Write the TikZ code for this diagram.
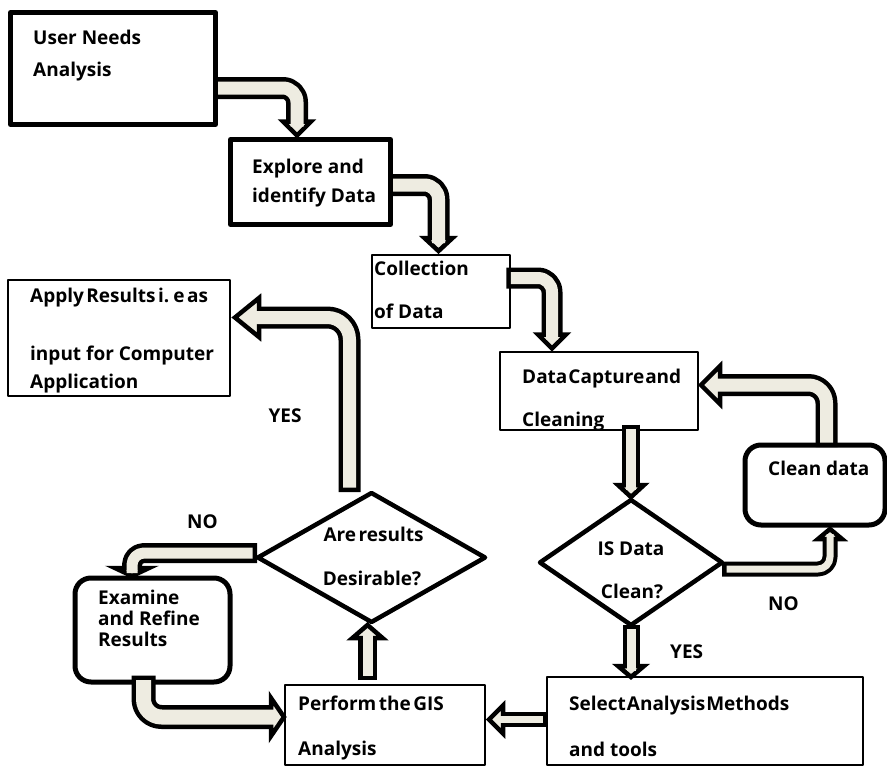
\documentclass[tikz,border=0pt]{standalone}
\usepackage{fontspec}
\setmainfont{Open Sans}
\usetikzlibrary{shapes.geometric,calc}
\definecolor{arrowfill}{HTML}{EEECE1}

% block arrow: #1 inner width, #2 outer width, #3 corner radius, #4 shaft path, #5 head path
\newcommand\blockarrow[5]{%
  \draw[line width=#2, rounded corners=#3, shorten <=-4.5pt] #4;
  \filldraw[headstyle] #5;
  \draw[line width=#1, draw=arrowfill, rounded corners=#3, shorten >=-5pt] #4;
}
% arrow heads from the tip (#1), half width (#2) and length (#3)
\newcommand\headdown[3]{($(#1)+(-#2,-#3)$) -- (#1) -- ($(#1)+(#2,-#3)$) -- cycle}
\newcommand\headup[3]{($(#1)+(-#2,#3)$) -- (#1) -- ($(#1)+(#2,#3)$) -- cycle}
\newcommand\headleft[3]{($(#1)+(#3,-#2)$) -- (#1) -- ($(#1)+(#3,#2)$) -- cycle}
\newcommand\headright[3]{($(#1)+(-#3,-#2)$) -- (#1) -- ($(#1)+(-#3,#2)$) -- cycle}
% narrow word spacing
\newcommand\tightsp{\spaceskip=2.5pt plus 1pt\relax}
\newcommand\tightersp{\spaceskip=1pt plus 0.5pt\relax}

\tikzset{
  thickbox/.style={draw, fill=white, line width=5pt, inner sep=0pt, outer sep=0pt},
  thinbox/.style={draw, fill=white, line width=1.6pt, inner sep=0pt, outer sep=0pt},
  softbox/.style={thickbox, rounded corners=16pt},
  decision/.style={diamond, draw, fill=white, line width=4.5pt, inner sep=0pt, outer sep=0pt},
  lbl/.style={font=\bfseries\fontsize{19}{22}\selectfont, inner sep=0pt, anchor=base west},
  clbl/.style={lbl, anchor=base},
  headstyle/.style={fill=arrowfill, draw=black, line width=4.5pt, line join=miter},
}

\begin{document}
\begin{tikzpicture}[x=1pt, y=-1pt, line join=round]
\useasboundingbox[fill=white] (0,0) rectangle (887,766);

% boxes
\node[thickbox, minimum width=205, minimum height=112] (un) at (113,68.5) {};
\node[thickbox, minimum width=160, minimum height=85] (ex) at (310.5,182) {};
\node[thinbox, minimum width=138, minimum height=73] (co) at (441,291.5) {};
\node[thinbox, minimum width=198, minimum height=78] (dc) at (599,391) {};
\node[softbox, minimum width=140, minimum height=80] (cd) at (815,485) {};
\node[decision, minimum width=182, minimum height=125] (isd) at (631,562.5) {};
\node[thinbox, minimum width=316, minimum height=88] (sel) at (705,721) {};
\node[thinbox, minimum width=200, minimum height=80] (pf) at (385,725) {};
\node[decision, minimum width=227, minimum height=129] (ar) at (371.5,557.5) {};
\node[thinbox, minimum width=222, minimum height=116] (ap) at (119,338) {};
\node[softbox, minimum width=155, minimum height=104] (exm) at (152.5,630) {};

% box texts
\node[lbl] (un1) at (33,44) {User Needs};
\node[lbl] (un2) at (33,76) {Analysis};
\node[lbl] (ex1) at (252,173) {Explore and};
\node[lbl] (ex2) at (252,202) {identify Data};
\node[lbl] (co1) at (374,275) {Collection};
\node[lbl] (co2) at (374,318) {of Data};
\begin{scope}
  \clip (dc.south west) rectangle (dc.north east);
  \node[lbl] (dc1) at (522,383) {\tightersp Data Capture and};
  \node[lbl] (dc2) at (522,426) {Cleaning};
\end{scope}
\node[lbl] (cd1) at (768,475) {Clean data};
\node[clbl] (isd1) at (631,555) {IS Data};
\node[clbl] (isd2) at (632,598) {Clean?};
\node[clbl] (ar1) at (373.5,541.5) {\tightsp Are results};
\node[clbl] (ar2) at (372,585.5) {Desirable?};
\node[lbl] (pf1) at (298,710) {\tightsp Perform the GIS};
\node[lbl] (pf2) at (298,755) {Analysis};
\node[lbl] (sel1) at (569,710.5) {\tightersp Select Analysis Methods};
\node[lbl] (sel2) at (569,756) {and tools};
\begin{scope}
  \clip (ap.south west) rectangle (ap.north east);
  \node[lbl] (ap1) at (30,302) {\tightsp Apply Results i. e as};
  \node[lbl] (ap2) at (30,360) {input for Computer};
  \node[lbl] (ap3) at (30,388) {Application};
\end{scope}
\node[lbl] (exm1) at (98,604) {Examine};
\node[lbl] (exm2) at (98,625) {and Refine};
\node[lbl] (exm3) at (98,646) {Results};

% branch labels
\node[clbl] (yes1) at (285,422) {YES};
\node[lbl] (no1) at (187,528) {NO};
\node[lbl] (no2) at (768,610) {NO};
\node[lbl] (yes2) at (670,658) {YES};

% connector end points
\coordinate (a1s) at ($(un.east)+(2.5,19.5)$);
\coordinate (a1t) at ($(ex.north west)+(66.5,-4)$);
\coordinate (a2s) at ($(ex.east)+(2.5,3)$);
\coordinate (a2t) at ($(co.north west)+(66.5,-4)$);
\coordinate (a3s) at ($(co.east)+(0.8,-13.5)$);
\coordinate (a3t) at ($(dc.north west)+(52,-3.5)$);
\coordinate (a4s) at ($(dc.south)+(32,-1)$);
\coordinate (a4t) at ($(isd.north)+(0,-3)$);
\coordinate (a5s) at ($(cd.north)+(11.5,-2.5)$);
\coordinate (a5t) at ($(dc.east)+(3,-6)$);
\coordinate (a6s) at ($(isd.east)+(4.5,6.5)$);
\coordinate (a6t) at ($(cd.south)+(15,4)$);
\coordinate (a7s) at ($(isd.south)+(0,4)$);
\coordinate (a7t) at ($(sel.north west)+(84,0)$);
\coordinate (a8s) at ($(sel.west)+(-4.5,-1.5)$);
\coordinate (a8t) at ($(pf.east)+(4,-5.5)$);
\coordinate (a9s) at ($(pf.north)+(-17.5,-9.5)$);
\coordinate (a9t) at ($(ar.south)+(-4,3)$);
\coordinate (a10s) at ($(ar.west)+(-5.5,-4.5)$);
\coordinate (a10t) at ($(exm.north)+(-20.5,-2)$);
\coordinate (a11s) at ($(exm.south)+(-9,-2)$);
\coordinate (a11t) at ($(pf.west)+(-1,-8)$);
\coordinate (a12s) at ($(ar.north)+(-22,-5.5)$);
\coordinate (a12t) at ($(ap.east)+(5,-20.5)$);

% block arrows
\blockarrow{13pt}{22pt}{14pt}{(a1s) -- (a1t |- a1s) -- ($(a1t)+(0,-14)$)}{\headdown{a1t}{14}{14}}
\blockarrow{13pt}{22pt}{14pt}{(a2s) -- (a2t |- a2s) -- ($(a2t)+(0,-13)$)}{\headdown{a2t}{14}{13}}
\blockarrow{12pt}{21pt}{14pt}{(a3s) -- (a3t |- a3s) -- ($(a3t)+(0,-14)$)}{\headdown{a3t}{14}{14}}
\blockarrow{10pt}{18pt}{1pt}{(a4s) -- ($(a4t)+(0,-12)$)}{\headdown{a4t}{13}{12}}
\blockarrow{13pt}{22pt}{18pt}{(a5s) -- (a5s |- a5t) -- ($(a5t)+(19,0)$)}{\headleft{a5t}{19}{19}}
\blockarrow{7pt}{15pt}{12pt}{(a6s) -- (a6t |- a6s) -- ($(a6t)+(0,10)$)}{\headup{a6t}{12}{10}}
\blockarrow{9pt}{17pt}{1pt}{(a7s) -- ($(a7t)+(0,-11)$)}{\headdown{a7t}{13}{11}}
\blockarrow{7pt}{15pt}{1pt}{(a8s) -- ($(a8t)+(14,0)$)}{\headleft{a8t}{14}{14}}
\blockarrow{10pt}{19pt}{1pt}{(a9s) -- ($(a9t)+(0,13)$)}{\headup{a9t}{15}{13}}
\blockarrow{11pt}{20pt}{12pt}{(a10s) -- (a10t |- a10s) -- ($(a10t)+(0,-8)$)}{\headdown{a10t}{17}{8}}
\blockarrow{15pt}{24pt}{18pt}{(a11s) -- (a11s |- a11t) -- ($(a11t)+(-13,0)$)}{\headright{a11t}{19}{13}}
\blockarrow{13pt}{22pt}{22pt}{(a12s) -- (a12s |- a12t) -- ($(a12t)+(24,0)$)}{\headleft{a12t}{19.5}{24}}
\end{tikzpicture}
\end{document}
